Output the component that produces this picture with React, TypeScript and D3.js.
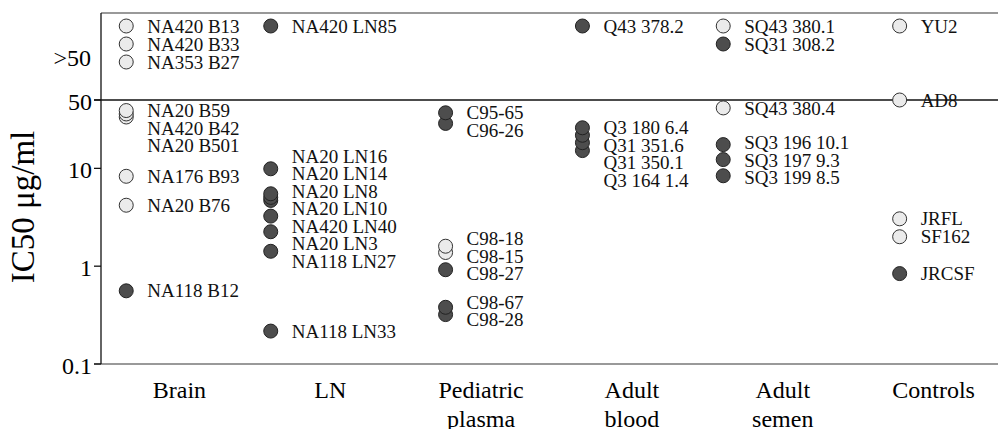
import { scaleBand, scaleLinear, scaleLog } from 'd3'
import { useMemo } from 'react'

// [name, IC50 (µg/ml) or null when >50, filled]
type Sample = [string, number | null, boolean]

const categories = ['Brain', 'LN', 'Pediatric plasma', 'Adult blood', 'Adult semen', 'Controls']

const brain: Sample[] = [
  ['NA420 B13', null, false],
  ['NA420 B33', null, false],
  ['NA353 B27', null, false],
  ['NA20 B59', 39, false],
  ['NA420 B42', 36, false],
  ['NA20 B501', 33.5, false],
  ['NA176 B93', 8.3, false],
  ['NA20 B76', 4.2, false],
  ['NA118 B12', 0.56, true],
]

const ln: Sample[] = [
  ['NA420 LN85', null, true],
  ['NA20 LN16', 9.9, true],
  ['NA20 LN14', 5.5, true],
  ['NA20 LN8', 5.05, true],
  ['NA20 LN10', 4.7, true],
  ['NA420 LN40', 3.25, true],
  ['NA20 LN3', 2.25, true],
  ['NA118 LN27', 1.42, true],
  ['NA118 LN33', 0.217, true],
]

const pediatric: Sample[] = [
  ['C95-65', 37, true],
  ['C96-26', 28.8, true],
  ['C98-18', 1.6, false],
  ['C98-15', 1.38, false],
  ['C98-27', 0.92, true],
  ['C98-67', 0.38, true],
  ['C98-28', 0.32, true],
]

const blood: Sample[] = [
  ['Q43 378.2', null, true],
  ['Q3 180 6.4', 26, true],
  ['Q31 351.6', 21.8, true],
  ['Q31 350.1', 18.3, true],
  ['Q3 164 1.4', 15.2, true],
]

const semen: Sample[] = [
  ['SQ43 380.1', null, false],
  ['SQ31 308.2', null, true],
  ['SQ43 380.4', 41.5, false],
  ['SQ3 196 10.1', 17.5, true],
  ['SQ3 197 9.3', 12.3, true],
  ['SQ3 199 8.5', 8.4, true],
]

const controls: Sample[] = [
  ['YU2', null, false],
  ['AD8', 50, false],
  ['JRFL', 3.05, false],
  ['SF162', 2.0, false],
  ['JRCSF', 0.84, true],
]

const groups = [brain, ln, pediatric, blood, semen, controls]
const yTicks = [50, 10, 1, 0.1]

const W = 998
const H = 429
const FONT = '"Liberation Serif", "Times New Roman", serif'
const LABEL_SIZE = 19
const R = 7
const LABEL_GAP = 21
const LINE_GAP = 17.5

function measure(text: string) {
  const ctx = document.createElement('canvas').getContext('2d')
  if (!ctx) return text.length * LABEL_SIZE * 0.5
  ctx.font = `${LABEL_SIZE}px "Liberation Serif"`
  return ctx.measureText(text).width
}

// push overlapping labels apart, keep the block centred on its points
function dodge(ys: number[], minTop: number) {
  let clusters = ys.map((y, i) => ({ idx: [i], ys: [y], top: y }))
  const place = (c: { ys: number[]; top: number }) => {
    const mean = c.ys.reduce((a, b) => a + b, 0) / c.ys.length
    c.top = Math.max(mean - ((c.ys.length - 1) * LINE_GAP) / 2, Math.min(c.ys[0], minTop))
  }
  let merged = true
  while (merged) {
    merged = false
    for (let i = 0; i < clusters.length - 1; i++) {
      const a = clusters[i]
      const b = clusters[i + 1]
      if (b.top < a.top + a.ys.length * LINE_GAP) {
        const c = { idx: [...a.idx, ...b.idx], ys: [...a.ys, ...b.ys], top: 0 }
        place(c)
        clusters = [...clusters.slice(0, i), c, ...clusters.slice(i + 2)]
        merged = true
        break
      }
    }
  }
  const out: number[] = []
  clusters.forEach((c) => c.idx.forEach((k, j) => (out[k] = c.top + j * LINE_GAP)))
  return out
}

export default function App() {
  const plotLeft = 101
  const plotTop = 13
  const plotBottom = 364

  const y = scaleLog().domain([0.1, 50]).range([plotBottom, 100])
  const yOver = scaleLinear().domain([0, 1]).range([plotTop + 13, plotTop + 31])
  const x = scaleBand().domain(categories).range([104, 1009])
  const mid = (c: string) => x(c)! + x.bandwidth() / 2

  const layout = useMemo(
    () =>
      groups.map((samples, gi) => {
        const maxW = Math.max(...samples.map((s) => measure(s[0])))
        const cx = mid(categories[gi]) - R - maxW / 2
        let rank = 0
        const pts = samples.map(([name, v, filled]) => ({
          name,
          filled,
          cy: v === null ? yOver(rank++) : y(v),
          over: v === null,
        }))
        const below = pts.filter((p) => !p.over)
        const ly = dodge(below.map((p) => p.cy), y(50) + 30)
        return { cx, pts: pts.map((p) => ({ ...p, ly: p.over ? p.cy : ly[below.indexOf(p)] })) }
      }),
    []
  )

  return (
    <svg width={W} height={H} style={{ position: 'absolute', left: 0, top: 0, background: '#fff', fontFamily: FONT }}>
      <line x1={plotLeft} x2={W} y1={plotTop} y2={plotTop} stroke="#777" strokeWidth={1.5} />
      <line x1={94} x2={W} y1={plotBottom} y2={plotBottom} stroke="#777" strokeWidth={1.5} />
      <line x1={94} x2={W} y1={y(50)} y2={y(50)} stroke="#111" strokeWidth={1.5} />
      <line x1={plotLeft} x2={plotLeft} y1={plotTop} y2={plotBottom} stroke="#111" strokeWidth={1.3} />

      {yTicks.map((t) => (
        <g key={t}>
          <line x1={94} x2={plotLeft} y1={y(t)} y2={y(t)} stroke="#111" strokeWidth={1.3} />
          <text x={92} y={y(t) + 10} textAnchor="end" fontSize={24}>
            {t}
          </text>
        </g>
      ))}
      <text x={91} y={(plotTop + y(50)) / 2 + 9} textAnchor="end" fontSize={24}>
        {'>50'}
      </text>
      <text transform={`translate(34,207) rotate(-90)`} textAnchor="middle" fontSize={33}>
        IC50 μg/ml
      </text>

      {categories.map((c) => (
        <text key={c} textAnchor="middle" fontSize={24}>
          {c.split(' ').map((w, i) => (
            <tspan key={w} x={mid(c)} y={398 + i * 29}>
              {w}
            </tspan>
          ))}
        </text>
      ))}

      {layout.map((g, gi) => (
        <g key={gi}>
          {[...g.pts]
            .sort((a, b) => b.cy - a.cy)
            .map((p) => (
              <circle
                key={p.name}
                cx={g.cx}
                cy={p.cy}
                r={R}
                fill={p.filled ? '#4d4d4d' : '#ebebeb'}
                stroke={p.filled ? '#222' : '#333'}
                strokeWidth={1}
              />
            ))}
          {g.pts.map((p) => (
            <text key={p.name} x={g.cx + LABEL_GAP} y={p.ly} dy="0.35em" fontSize={LABEL_SIZE} fill="#111">
              {p.name}
            </text>
          ))}
        </g>
      ))}
    </svg>
  )
}
